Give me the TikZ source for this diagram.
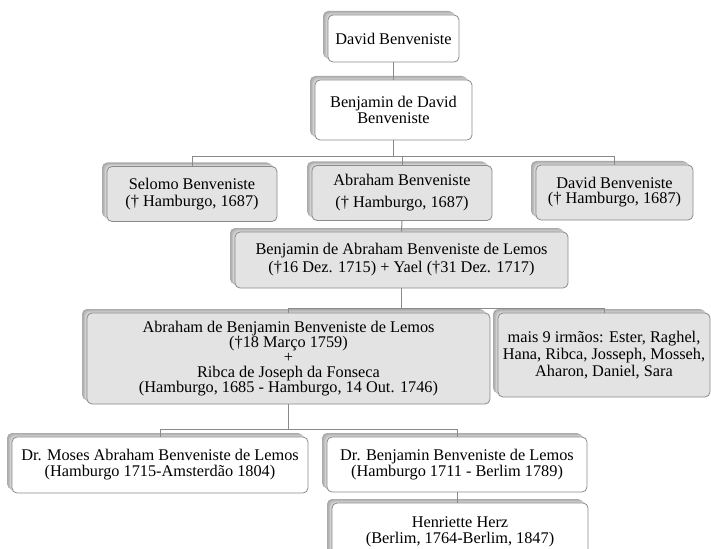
\documentclass[tikz,border=0pt]{standalone}
\usepackage{fontspec}
\setmainfont{Liberation Serif}
\usetikzlibrary{shadows}
\definecolor{linec}{HTML}{8A8A8A}
\definecolor{boxgrey}{HTML}{E3E3E3}
\definecolor{shadA}{HTML}{ABABAB}
\definecolor{shadB}{HTML}{BEBEBE}
\definecolor{shadC}{HTML}{D2D2D2}
\tikzset{
  bx/.style={rounded corners=5pt, draw=linec, line width=0.8pt, align=center, inner sep=0pt,
    general shadow={shadow xshift=-5pt, shadow yshift=4pt, fill=shadA, rounded corners=5pt},
    general shadow={shadow xshift=-3.4pt, shadow yshift=2.7pt, fill=shadB, rounded corners=5pt},
    general shadow={shadow xshift=-1.8pt, shadow yshift=1.4pt, fill=shadC, rounded corners=5pt},
    fill=white},
  greybx/.style={bx, fill=boxgrey},
  fs/.style={font=\fontsize{16.3}{#1}\selectfont},
  conn/.style={draw=linec, line width=1pt},
}
\begin{document}
\begin{tikzpicture}[x=1pt, y=-1pt]
\useasboundingbox (0,0) rectangle (711,548);
\node[bx, fs=15, minimum width=131, minimum height=47] (n1) at (393.5,38.5) {David Benveniste};
\node[bx, fs=13.5, minimum width=157, minimum height=60] (n2) at (393.5,110) {Benjamin de David\\Benveniste};
\node[greybx, fs=17, minimum width=170, minimum height=55] (s1) at (192,194) {Selomo Benveniste\\(† Hamburgo, 1687)};
\node[greybx, fs=22, minimum width=180, minimum height=55] (s2) at (402,193) {Abraham Benveniste\\(† Hamburgo, 1687)};
\node[greybx, fs=15, minimum width=157, minimum height=55] (s3) at (614.5,192.5) {David Benveniste\\(† Hamburgo, 1687)};
\node[greybx, fs=18, minimum width=333, minimum height=56] (b) at (401.5,260) {Benjamin de Abraham Benveniste de Lemos\\(†16 Dez. 1715) + Yael (†31 Dez. 1717)};
\node[greybx, fs=15, minimum width=403, minimum height=91] (a) at (288.5,358.5) {Abraham de Benjamin Benveniste de Lemos\\(†18 Março 1759)\\+\\Ribca de Joseph da Fonseca\\(Hamburgo, 1685 - Hamburgo, 14 Out. 1746)};
\node[greybx, fs=17, minimum width=212, minimum height=84] (m) at (604,355) {mais 9 irmãos: Ester, Raghel,\\Hana, Ribca, Josseph, Mosseh,\\Aharon, Daniel, Sara};
\node[bx, fs=16, minimum width=296, minimum height=56] (d1) at (160,465) {Dr. Moses Abraham Benveniste de Lemos\\(Hamburgo 1715-Amsterdão 1804)};
\node[bx, fs=16, minimum width=260, minimum height=55] (d2) at (457,464.5) {Dr. Benjamin Benveniste de Lemos\\(Hamburgo 1711 - Berlim 1789)};
\node[bx, fs=16, minimum width=256, minimum height=57] (h) at (460,531.5) {Henriette Herz\\(Berlim, 1764-Berlim, 1847)};
\coordinate (j1) at (393.5,157);
\coordinate (j2) at (401.5,308);
\coordinate (j3) at (288.5,429);
\draw[conn] (n1.south) -- (n2.north);
\draw[conn] (n2.south) -- (j1);
\draw[conn] (j1) -| (s1.north);
\draw[conn] (j1) -| (s2.north);
\draw[conn] (j1) -| (s3.north);
\draw[conn] (s2.south) -- (b.north);
\draw[conn] (b.south) -- (j2);
\draw[conn] (j2) -| (a.north);
\draw[conn] (j2) -| (m.north);
\draw[conn] (a.south) -- (j3);
\draw[conn] (j3) -| (d1.north);
\draw[conn] (j3) -| (d2.north);
\draw[conn] (d2.south) -- (d2.south |- h.north);
\end{tikzpicture}
\end{document}
